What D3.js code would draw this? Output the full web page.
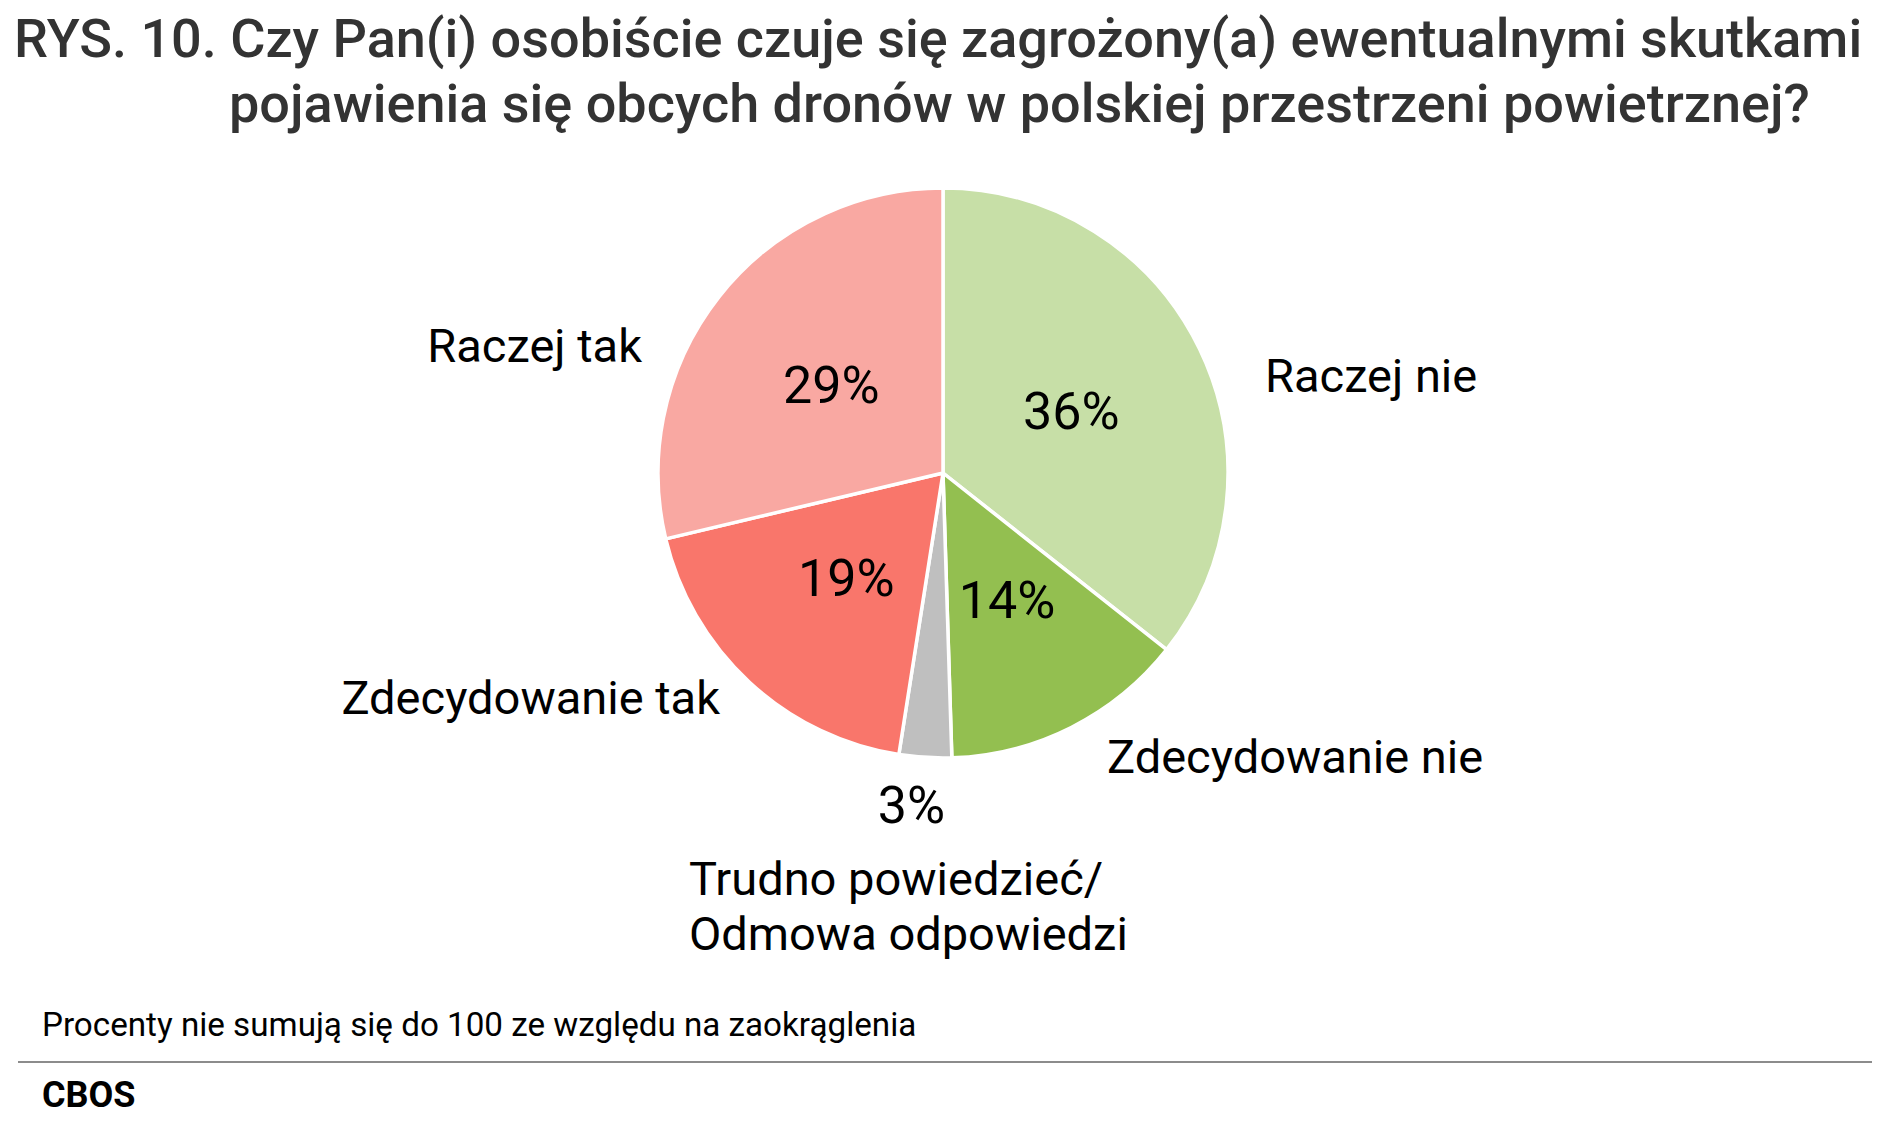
<!DOCTYPE html>
<html>
<head>
<meta charset="utf-8">
<script src="https://cdn.jsdelivr.net/npm/d3@7"></script>
<style>
  body { margin: 0; background: #fff; }
  text { font-family: Roboto, "Noto Sans", sans-serif; }
</style>
</head>
<body>
<div id="chart"></div>
<script>
const categories = ["Raczej nie", "Zdecydowanie nie", "Trudno powiedzieć/\nOdmowa odpowiedzi", "Zdecydowanie tak", "Raczej tak"];
const values = [36, 14, 3, 19, 29];
const colors = ["#c7dfa7", "#93bf50", "#bfbfbf", "#f9766b", "#f9a8a2"];

const titleLines = [
  "RYS. 10. Czy Pan(i) osobiście czuje się zagrożony(a) ewentualnymi skutkami",
  "pojawienia się obcych dronów w polskiej przestrzeni powietrznej?"
];
const note = "Procenty nie sumują się do 100 ze względu na zaokrąglenia";
const source = "CBOS";

const width = 1891, height = 1124;
const cx = 943, cy = 473, radius = 285;

// where each category name sits, relative to the pie centre
const catLayout = [
  { x: 322, y: -81, anchor: "start" },
  { x: 164, y: 300, anchor: "start" },
  { x: -254, y: 422, anchor: "start" },
  { x: -223, y: 241, anchor: "end" },
  { x: -301, y: -111, anchor: "end" }
];

const svg = d3.select("#chart").append("svg")
  .attr("width", width)
  .attr("height", height);

const title = svg.append("text")
  .attr("fill", "#333333")
  .attr("font-size", 54)
  .attr("font-weight", 500);
title.append("tspan").attr("x", 14).attr("y", 57).text(titleLines[0]);
title.append("tspan").attr("x", 229).attr("y", 122).text(titleLines[1]);

const pie = d3.pie().sort(null).value(d => d)(values);
const arc = d3.arc().innerRadius(0).outerRadius(radius);

const g = svg.append("g").attr("transform", `translate(${cx},${cy})`);

g.selectAll("path.slice")
  .data(pie)
  .enter()
  .append("path")
  .attr("class", "slice")
  .attr("d", arc)
  .attr("fill", (d, i) => colors[i])
  .attr("stroke", "#fff")
  .attr("stroke-width", 3.5)
  .attr("stroke-linejoin", "round");

// percentages: inside on the centroid, small slice goes outside
const outerArc = d3.arc().innerRadius(radius + 47).outerRadius(radius + 47);
g.selectAll("text.pct")
  .data(pie)
  .enter()
  .append("text")
  .attr("class", "pct")
  .attr("transform", d => `translate(${(d.value < 5 ? outerArc : arc).centroid(d)})`)
  .attr("dx", d => d.value < 5 ? -11 : 0)
  .attr("dy", "0.35em")
  .attr("text-anchor", "middle")
  .attr("font-size", 52)
  .attr("fill", "#000")
  .text(d => d.value + "%");

const cat = g.selectAll("text.cat")
  .data(pie)
  .enter()
  .append("text")
  .attr("class", "cat")
  .attr("x", (d, i) => catLayout[i].x)
  .attr("y", (d, i) => catLayout[i].y)
  .attr("text-anchor", (d, i) => catLayout[i].anchor)
  .attr("font-size", 47)
  .attr("fill", "#000");

cat.selectAll("tspan")
  .data((d, i) => categories[i].split("\n").map(t => ({ t, x: catLayout[i].x })))
  .enter()
  .append("tspan")
  .attr("x", d => d.x)
  .attr("dy", (d, j) => j ? 55 : 0)
  .text(d => d.t);

svg.append("text")
  .attr("x", 42)
  .attr("y", 1036)
  .attr("font-size", 33.2)
  .attr("fill", "#000")
  .text(note);

svg.append("line")
  .attr("x1", 18).attr("x2", 1872)
  .attr("y1", 1062).attr("y2", 1062)
  .attr("stroke", "#8c8c8c")
  .attr("stroke-width", 2);

svg.append("text")
  .attr("x", 42)
  .attr("y", 1107)
  .attr("font-family", "'Open Sans', sans-serif")
  .attr("font-size", 36)
  .attr("font-weight", 700)
  .attr("fill", "#000")
  .text(source);
</script>
</body>
</html>
